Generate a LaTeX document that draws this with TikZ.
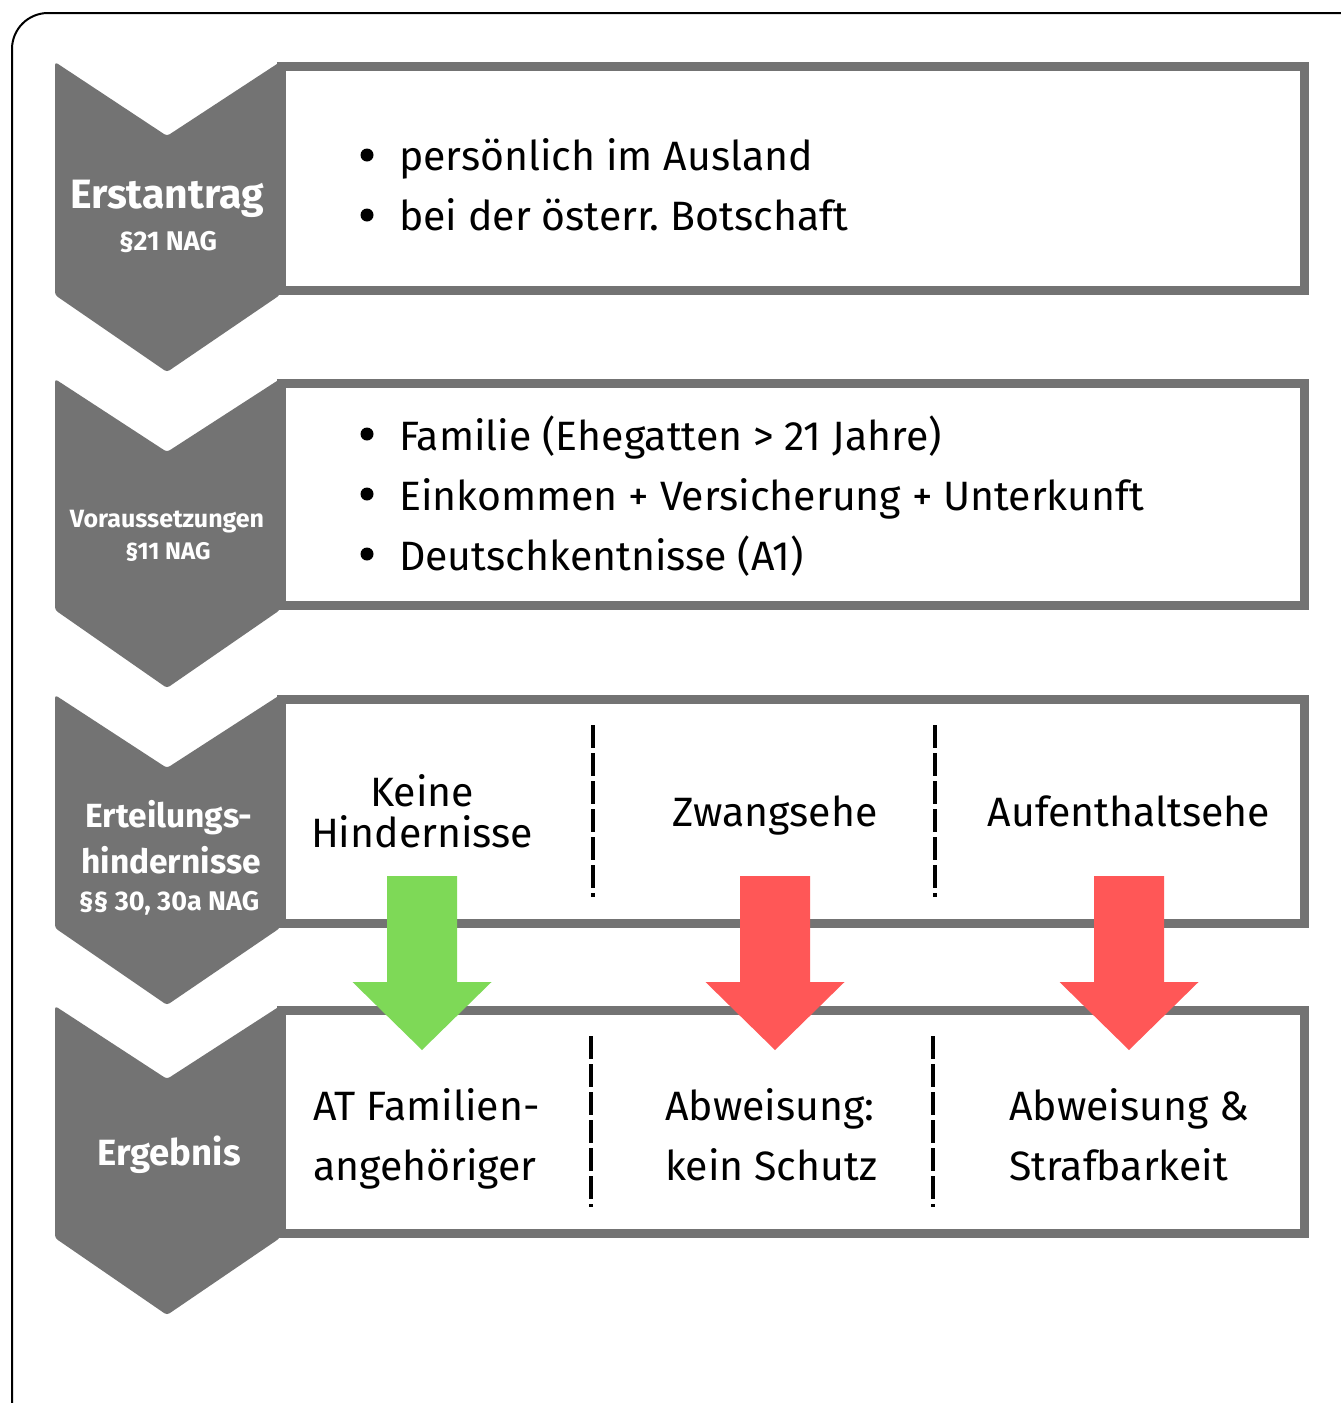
\documentclass[tikz,border=0pt]{standalone}
\usepackage{fontspec}
\setmainfont{Fira Sans}
\frenchspacing
\definecolor{gr}{HTML}{737373}
\definecolor{grn}{HTML}{7ED957}
\definecolor{rd}{HTML}{FF5757}
\begin{document}
\begin{tikzpicture}[x=1pt,y=-1pt,
  body/.style={font=\fontsize{41}{49}\selectfont, inner sep=0pt, anchor=base west, text=black},
  bodyc/.style={font=\fontsize{41}{49}\selectfont, inner sep=0pt, anchor=base, text=black},
  head/.style={text=white, inner sep=0pt, anchor=base},
  boxline/.style={draw=gr, line width=9pt},
  chev/.style={fill=gr, rounded corners=3pt},
  sep/.style={line width=3.5pt, dash pattern=on 23pt off 5pt},
  dot/.style={fill=black}
]
\useasboundingbox (0,0) rectangle (1341,1403);
\clip (0,0) rectangle (1341,1403);
\fill[white] (0,0) rectangle (1341,1403);
\draw[line width=2pt, rounded corners=36pt] (12,13) rectangle (1390,1450);

% boxes and chevrons
\foreach \t/\b/\n/\p in {62/295/136/372, 379/610/452/688, 695/928/768/1005, 1006/1238/1079/1315}{
  \draw[boxline] (281.5,{\t+4.5}) rectangle (1304.5,{\b-4.5});
  \path[chev] (55,\t) -- (167,\n) -- (280,\t) -- (280,\b) -- (167,\p) -- (55,\b) -- cycle;
}

% headers
\node[head, font=\bfseries\fontsize{41}{48}\selectfont] (h1) at (167,208) {Erstantrag};
\node[head, font=\bfseries\fontsize{27}{30}\selectfont] (h1b) at (168,250) {§21 NAG};
\node[head, font=\bfseries\fontsize{25}{28}\selectfont] (h2) at (167,527) {Voraussetzungen};
\node[head, font=\bfseries\fontsize{24}{28}\selectfont] (h2b) at (168,559) {§11 NAG};
\node[head, font=\bfseries\fontsize{33.5}{38}\selectfont] (h3) at (169,827) {Erteilungs-};
\node[head, font=\bfseries\fontsize{33.5}{38}\selectfont] (h3b) at (171,873) {hindernisse};
\node[head, font=\bfseries\fontsize{27}{30}\selectfont] (h3c) at (169,910) {§§ 30, 30a NAG};
\node[head, font=\bfseries\fontsize{36.5}{42}\selectfont] (h4) at (169,1165) {Ergebnis};

% box 1
\fill[dot] (367,155) circle (6.5);
\fill[dot] (367,215) circle (6.5);
\node[body] (b1a) at (399,170) {persönlich im Ausland};
\node[body] (b1b) at (399,230) {bei der österr.\ Botschaft};

% box 2
\fill[dot] (367,434) circle (6.5);
\fill[dot] (367,494) circle (6.5);
\fill[dot] (367,554) circle (6.5);
\node[body] (b2a) at (399,450) {Familie (Ehegatten > 21 Jahre)};
\node[body] (b2b) at (399,510) {Einkommen + Versicherung + Unterkunft};
\node[body] (b2c) at (399,570) {Deutschkentnisse (A1)};

% box 3
\node[bodyc] (b3a) at (422,806) {Keine};
\node[bodyc] (b3b) at (422,847) {Hindernisse};
\node[bodyc] (b3c) at (775,826) {Zwangsehe};
\node[bodyc] (b3d) at (1129,826) {Aufenthaltsehe};
\draw[sep] (593,725) -- (593,897);
\draw[sep] (935,725) -- (935,897);

% box 4
\node[body] (b4a) at (313,1120) {AT Familien-};
\node[body] (b4b) at (313,1180) {angehöriger};
\node[body] (b4c) at (665,1120) {Abweisung:};
\node[body] (b4d) at (665,1180) {kein Schutz};
\node[body] (b4e) at (1009,1120) {Abweisung \&};
\node[body] (b4f) at (1009,1180) {Strafbarkeit};
\draw[sep] (591,1036) -- (591,1207);
\draw[sep] (933,1036) -- (933,1207);

% arrows
\foreach \c/\col in {422/grn, 775/rd, 1129/rd}{
  \fill[\col] ({\c-35},876) -- ({\c+35},876) -- ({\c+35},982) -- ({\c+69.5},982)
    -- (\c,1050) -- ({\c-69.5},982) -- ({\c-35},982) -- cycle;
}
\end{tikzpicture}
\end{document}
